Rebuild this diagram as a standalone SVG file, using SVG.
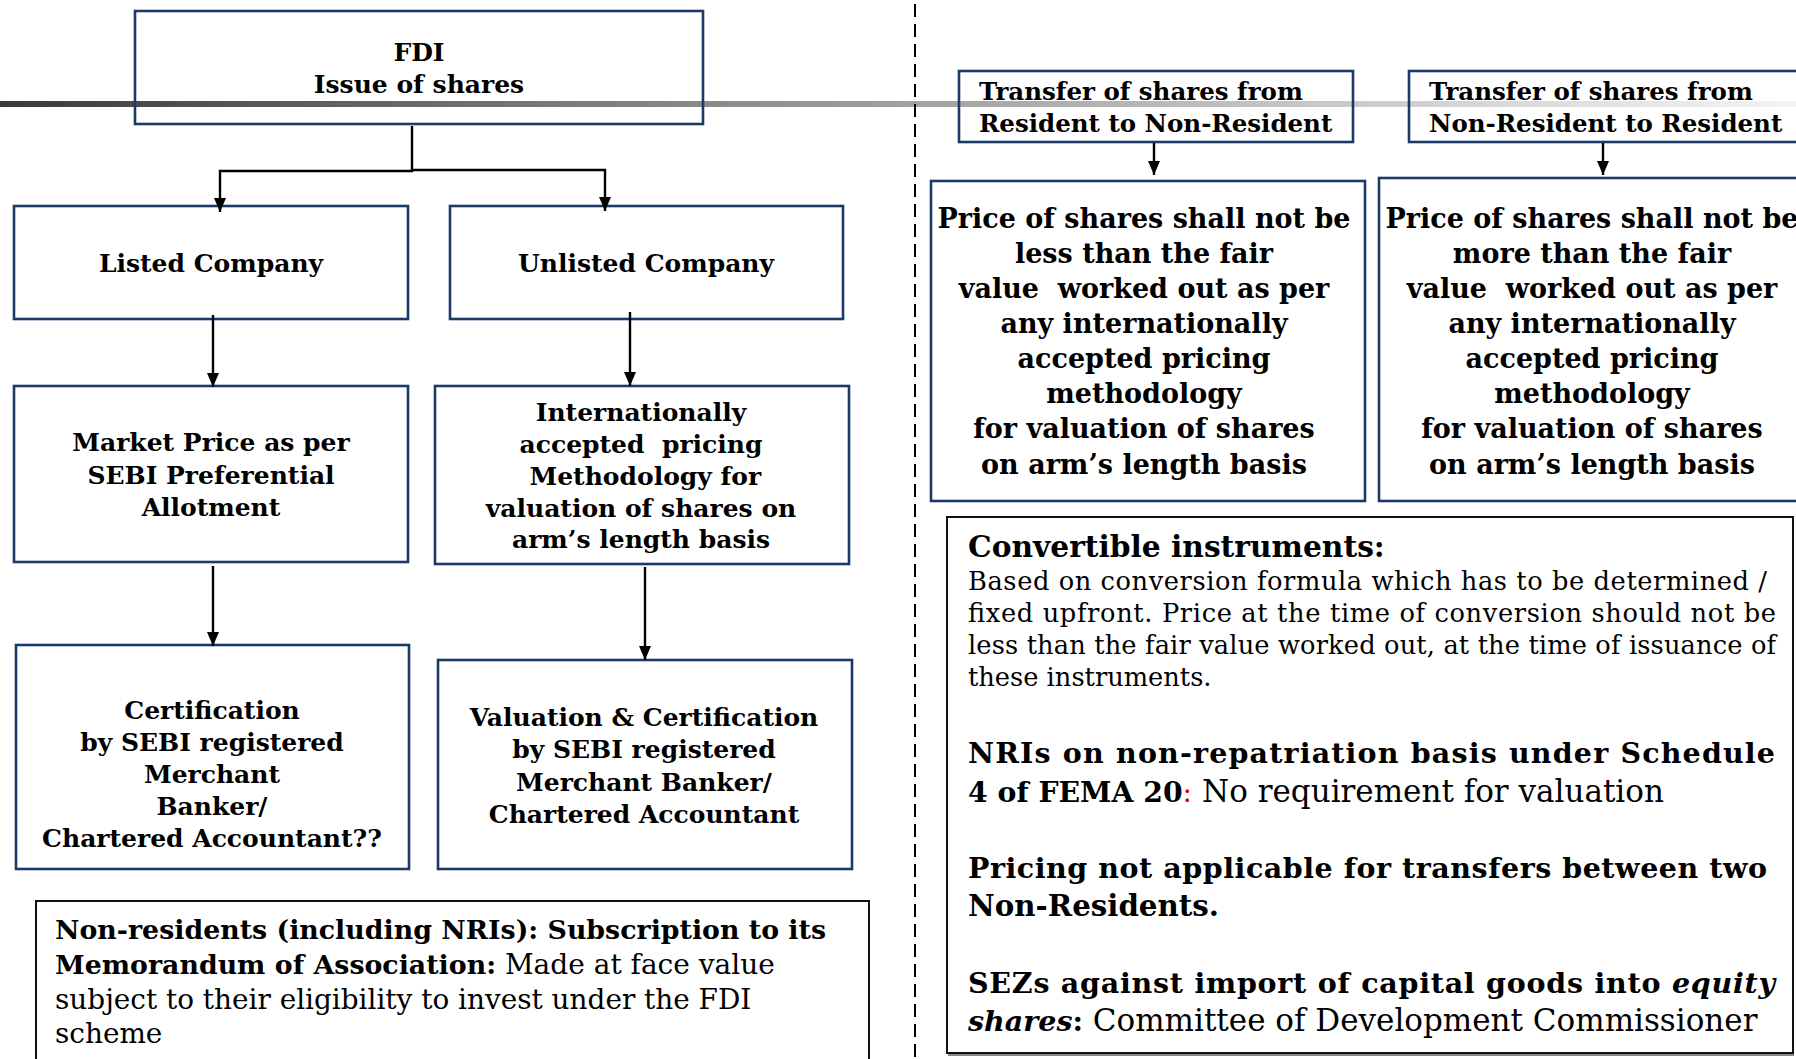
<svg xmlns="http://www.w3.org/2000/svg" width="1796" height="1059" viewBox="0 0 1796 1059">
<style>
.bg{fill:#ffffff}
.node{fill:none;stroke:#1b3a68;stroke-width:2.6}
.note{fill:none;stroke:#111111;stroke-width:2}
.t{font-family:"DejaVu Serif","Liberation Serif",serif;font-weight:bold;font-size:25px;fill:#000;text-anchor:middle}
.tp{font-size:27px}
.tl{font-family:"DejaVu Serif","Liberation Serif",serif;font-weight:bold;font-size:24.5px;fill:#000}
.pre{white-space:pre}
.b{font-family:"DejaVu Serif","Liberation Serif",serif;font-weight:bold;fill:#000}
.r{font-family:"DejaVu Serif","Liberation Serif",serif;font-weight:normal;fill:#000}
.red{font-family:"DejaVu Serif","Liberation Serif",serif;fill:#e00000}
.conn{fill:none;stroke:#000;stroke-width:2.4}
.div{stroke:#000;stroke-width:2;stroke-dasharray:13 7}
</style>
<defs>
<linearGradient id="bar" x1="0" y1="0" x2="1" y2="0">
<stop offset="0" stop-color="#3a3a3a"/>
<stop offset="0.5" stop-color="#a0a0a0"/>
<stop offset="1" stop-color="#f4f4f4"/>
</linearGradient>
<marker id="arr" markerUnits="userSpaceOnUse" markerWidth="14" markerHeight="12" refX="14" refY="6" orient="auto" viewBox="0 0 14 12">
<path d="M0,0 L14,6 L0,12 z" fill="#000"/>
</marker>
</defs>
<rect class="bg" x="0" y="0" width="1796" height="1059"/>
<rect x="0" y="101" width="1796" height="6" fill="url(#bar)"/>
<line class="div" x1="915" y1="4" x2="915" y2="1059"/>

<g id="fdi">
<rect class="node" x="135" y="11" width="568" height="113"/>
<text class="t" x="419" y="61">FDI</text>
<text class="t" x="419" y="93">Issue of shares</text>
</g>
<g id="listed">
<rect class="node" x="14" y="206" width="394" height="113"/>
<text class="t" x="211" y="272">Listed Company</text>
</g>
<g id="unlisted">
<rect class="node" x="450" y="206" width="393" height="113"/>
<text class="t" x="646" y="272">Unlisted Company</text>
</g>
<g id="market">
<rect class="node" x="14" y="386" width="394" height="176"/>
<text class="t" x="211" y="451" font-size="24.3">Market Price as per</text>
<text class="t" x="211" y="484" font-size="24.3">SEBI Preferential</text>
<text class="t" x="211" y="516" font-size="24.3">Allotment</text>
</g>
<g id="intl">
<rect class="node" x="435" y="386" width="414" height="178"/>
<text class="t" x="641" y="421">Internationally</text>
<text class="t pre" x="641" y="453">accepted  pricing</text>
<text class="t pre" x="641" y="485"> Methodology for</text>
<text class="t" x="641" y="517">valuation of shares on</text>
<text class="t" x="641" y="548">arm’s length basis</text>
</g>
<g id="cert">
<rect class="node" x="16" y="645" width="393" height="224"/>
<text class="t" x="212" y="719">Certification</text>
<text class="t" x="212" y="751">by SEBI registered</text>
<text class="t" x="212" y="783">Merchant</text>
<text class="t" x="212" y="815">Banker/</text>
<text class="t" x="212" y="847">Chartered Accountant??</text>
</g>
<g id="valuation">
<rect class="node" x="438" y="660" width="414" height="209"/>
<text class="t" x="644" y="726">Valuation &amp; Certification</text>
<text class="t" x="644" y="758">by SEBI registered</text>
<text class="t" x="644" y="791">Merchant Banker/</text>
<text class="t" x="644" y="823">Chartered Accountant</text>
</g>
<g id="nonres">
<rect class="note" x="36" y="901" width="833" height="180"/>
<text class="b" x="55" y="939" font-size="26.8">Non-residents (including NRIs): Subscription to its</text>
<text x="55" y="974"><tspan class="b" font-size="26.8">Memorandum of Association:</tspan><tspan class="r" font-size="28"> Made at face value</tspan></text>
<text class="r" x="55" y="1009" font-size="27.9">subject to their eligibility to invest under the FDI</text>
<text class="r" x="55" y="1043" font-size="27.9">scheme</text>
</g>
<g id="transfer1">
<rect class="node" x="959" y="71" width="394" height="71"/>
<text class="tl" x="979" y="100">Transfer of shares from</text>
<text class="tl" x="979" y="132">Resident to Non-Resident</text>
</g>
<g id="transfer2">
<rect class="node" x="1409" y="71" width="400" height="71"/>
<text class="tl" x="1429" y="100">Transfer of shares from</text>
<text class="tl" x="1429" y="132">Non-Resident to Resident</text>
</g>
<g id="price1">
<rect class="node" x="931" y="181" width="434" height="320"/>
<text class="t tp" x="1144" y="228">Price of shares shall not be</text>
<text class="t tp" x="1144" y="263">less than the fair</text>
<text class="t tp pre" x="1144" y="298">value  worked out as per</text>
<text class="t tp" x="1144" y="333">any internationally</text>
<text class="t tp" x="1144" y="368">accepted pricing</text>
<text class="t tp" x="1144" y="403">methodology</text>
<text class="t tp" x="1144" y="438">for valuation of shares</text>
<text class="t tp" x="1144" y="474">on arm’s length basis</text>
</g>
<g id="price2">
<rect class="node" x="1379" y="178" width="430" height="323"/>
<text class="t tp" x="1592" y="228">Price of shares shall not be</text>
<text class="t tp" x="1592" y="263">more than the fair</text>
<text class="t tp pre" x="1592" y="298">value  worked out as per</text>
<text class="t tp" x="1592" y="333">any internationally</text>
<text class="t tp" x="1592" y="368">accepted pricing</text>
<text class="t tp" x="1592" y="403">methodology</text>
<text class="t tp" x="1592" y="438">for valuation of shares</text>
<text class="t tp" x="1592" y="474">on arm’s length basis</text>
</g>
<g id="convertible">
<line x1="948" y1="1055" x2="1794" y2="1055" stroke="#888" stroke-width="2"/>
<rect class="note" x="947" y="517" width="846" height="536"/>
<text class="b" x="968" y="557" font-size="29.7">Convertible instruments:</text>
<text class="r" x="968" y="590" font-size="25.7" textLength="799" lengthAdjust="spacing">Based on conversion formula which has to be determined /</text>
<text class="r" x="968" y="622" font-size="25.7" textLength="808" lengthAdjust="spacing">fixed upfront. Price at the time of conversion should not be</text>
<text class="r" x="968" y="654" font-size="25.7" textLength="808" lengthAdjust="spacing">less than the fair value worked out, at the time of issuance of</text>
<text class="r" x="968" y="686" font-size="25.7">these instruments.</text>
<text class="b" x="968" y="763" font-size="28.5" textLength="807" lengthAdjust="spacing">NRIs on non-repatriation basis under Schedule</text>
<text x="968" y="802"><tspan class="b" font-size="28.3">4 of FEMA 20</tspan><tspan class="red" font-size="28.3">:</tspan><tspan class="r" font-size="31"> No requirement for valuation</tspan></text>
<text class="b" x="968" y="878" font-size="28.5" textLength="799" lengthAdjust="spacing">Pricing not applicable for transfers between two</text>
<text class="b" x="968" y="916" font-size="29.3">Non-Residents.</text>
<text x="968" y="993" font-size="28.5" textLength="807" lengthAdjust="spacing"><tspan class="b">SEZs against import of capital goods into </tspan><tspan class="b" font-style="italic">equity</tspan></text>
<text x="968" y="1031"><tspan class="b" font-style="italic" font-size="28.5">shares</tspan><tspan class="b" font-size="28.5">:</tspan><tspan class="r" font-size="31"> Committee of Development Commissioner</tspan></text>
</g>

<g id="connectors">
<path class="conn" d="M412,126 V171 H220 V212" marker-end="url(#arr)"/>
<path class="conn" d="M412,170 H605 V211" marker-end="url(#arr)"/>
<path class="conn" d="M213,315 V387" marker-end="url(#arr)"/>
<path class="conn" d="M630,312 V386" marker-end="url(#arr)"/>
<path class="conn" d="M213,566 V646" marker-end="url(#arr)"/>
<path class="conn" d="M645,567 V660" marker-end="url(#arr)"/>
<path class="conn" d="M1154,143 V175" marker-end="url(#arr)"/>
<path class="conn" d="M1603,143 V175" marker-end="url(#arr)"/>
</g>
</svg>
